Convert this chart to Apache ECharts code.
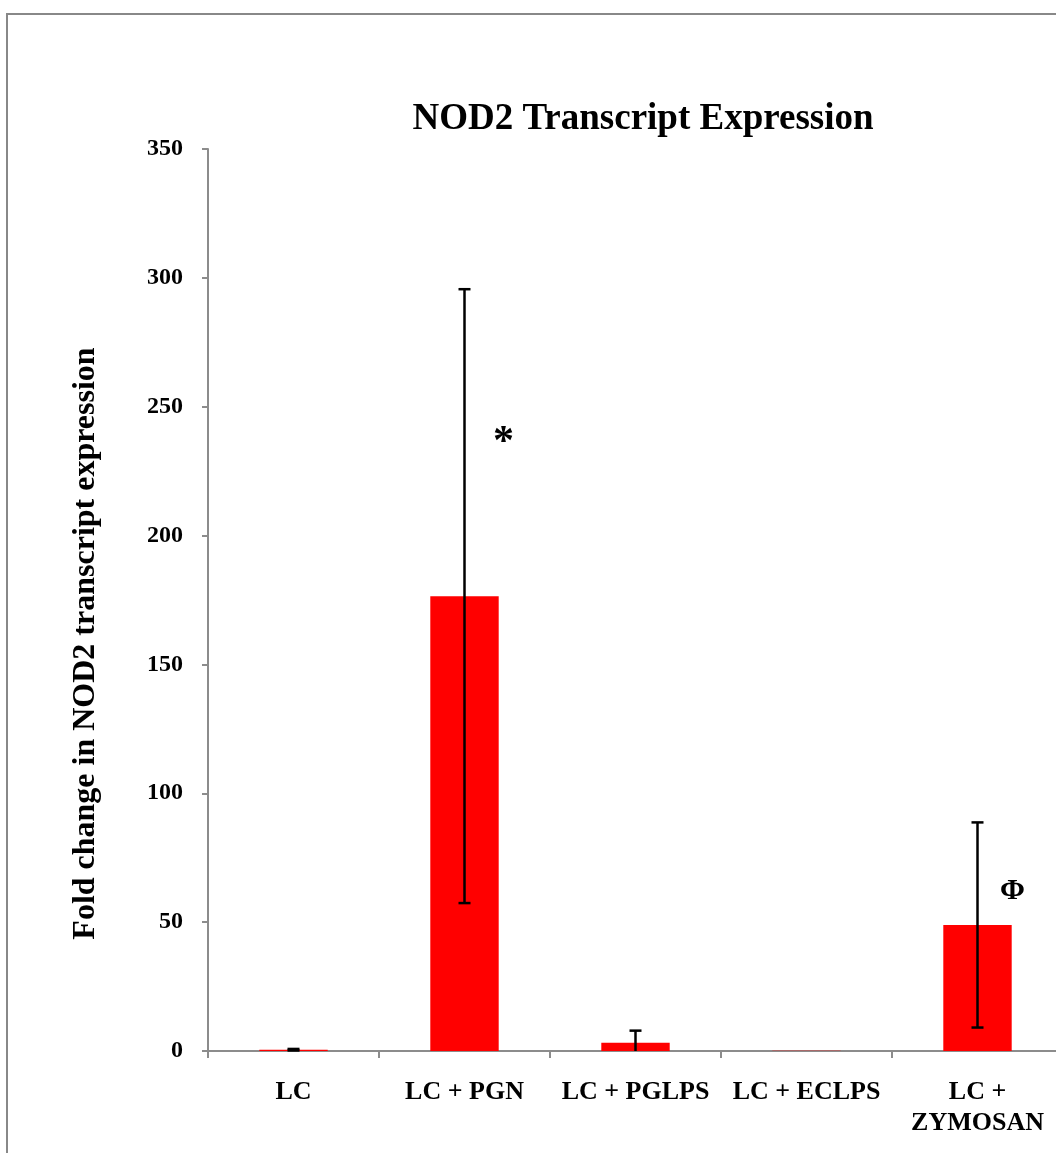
<!DOCTYPE html>
<html>
<head>
<meta charset="utf-8">
<script src="https://cdn.jsdelivr.net/npm/echarts@6/dist/echarts.min.js"></script>
<style>
  html, body { margin: 0; padding: 0; background: #fff; overflow: hidden; }
  #chart { width: 1070px; height: 1153px; }
</style>
</head>
<body>
<div id="chart"></div>
<script>
// Treatment groups
const categories = ['LC', 'LC + PGN', 'LC + PGLPS', 'LC + ECLPS', 'LC +\nZYMOSAN'];
// Mean fold change in NOD2 transcript expression
const foldChange = [0.5, 176.5, 3.2, 0.1, 48.9];
// Error (± one standard deviation)
const errors = [0.3, 119.1, 4.7, 0, 39.8];
// Significance markers: [category index, value position, symbol]
const markers = [[1, 236, '*'], [4, 62, 'Φ']];
// Y axis range
const yMin = 0, yMax = 350, yStep = 50;

const serif = '"Liberation Serif", "DejaVu Serif", serif';
const axisGray = '#8c8c8c';

const chart = echarts.init(document.getElementById('chart'));

chart.setOption({
  animation: false,
  backgroundColor: '#fff',
  graphic: [{
    type: 'rect',
    shape: { x: 7, y: 14, width: 1200, height: 1300 },
    style: { fill: 'none', stroke: '#888', lineWidth: 2 },
    z: -1
  }],
  title: {
    text: 'NOD2 Transcript Expression',
    left: 638,
    textAlign: 'center',
    top: 96,
    textStyle: { fontFamily: serif, fontWeight: 'bold', fontSize: 37, color: '#000' }
  },
  grid: { left: 208, top: 149, width: 855, bottom: 102, containLabel: false },
  xAxis: {
    type: 'category',
    data: categories,
    axisLine: { lineStyle: { color: axisGray, width: 2 } },
    axisTick: { show: true, length: 7, lineStyle: { color: axisGray, width: 2 } },
    axisLabel: {
      interval: 0,
      margin: 26,
      fontFamily: serif, fontWeight: 'bold', fontSize: 26, color: '#000',
      lineHeight: 31
    }
  },
  yAxis: {
    type: 'value',
    min: yMin, max: yMax, interval: yStep,
    name: 'Fold change in NOD2 transcript expression',
    nameLocation: 'middle',
    nameGap: 106,
    nameRotate: 90,
    nameTextStyle: {
      fontFamily: serif, fontWeight: 'bold', fontSize: 32, color: '#000',
      padding: [0, 87, 0, 0]
    },
    splitLine: { show: false },
    axisLine: { show: true, lineStyle: { color: axisGray, width: 2 } },
    axisTick: { show: true, length: 6, lineStyle: { color: axisGray, width: 2 } },
    axisLabel: {
      margin: 25,
      fontFamily: serif, fontWeight: 'bold', fontSize: 24, color: '#000'
    }
  },
  series: [
    {
      type: 'bar',
      data: foldChange,
      barWidth: '40%',
      itemStyle: { color: '#ff0000' },
      z: 2
    },
    {
      // Error bars with caps; the lower whisker is clipped at the axis
      type: 'custom',
      data: foldChange.map((v, i) => [i, v, errors[i]]),
      z: 3,
      renderItem: function (params, api) {
        const i = api.value(0), v = api.value(1), e = api.value(2);
        if (!e) return null;
        const hi = api.coord([i, v + e]);
        const lowVal = v - e;
        const lo = api.coord([i, Math.max(lowVal, yMin)]);
        const cap = 6;
        const style = { stroke: '#000', lineWidth: 2.5 };
        const children = [
          { type: 'line', shape: { x1: hi[0], y1: hi[1], x2: lo[0], y2: lo[1] }, style },
          { type: 'line', shape: { x1: hi[0] - cap, y1: hi[1], x2: hi[0] + cap, y2: hi[1] }, style }
        ];
        if (lowVal >= yMin) {
          children.push({ type: 'line', shape: { x1: lo[0] - cap, y1: lo[1], x2: lo[0] + cap, y2: lo[1] }, style });
        }
        return { type: 'group', children };
      }
    },
    {
      // Significance symbols beside the error bars
      type: 'custom',
      data: markers,
      z: 4,
      renderItem: function (params, api) {
        const p = api.coord([api.value(0), api.value(1)]);
        const sym = markers[params.dataIndex][2];
        return {
          type: 'text',
          x: p[0] + (sym === '*' ? 39 : 35),
          y: p[1],
          style: {
            text: sym,
            fontFamily: serif,
            fontWeight: 'bold',
            fontSize: sym === '*' ? 42 : 30,
            fill: '#000',
            align: 'center',
            verticalAlign: 'middle'
          }
        };
      }
    }
  ]
});
</script>
</body>
</html>
